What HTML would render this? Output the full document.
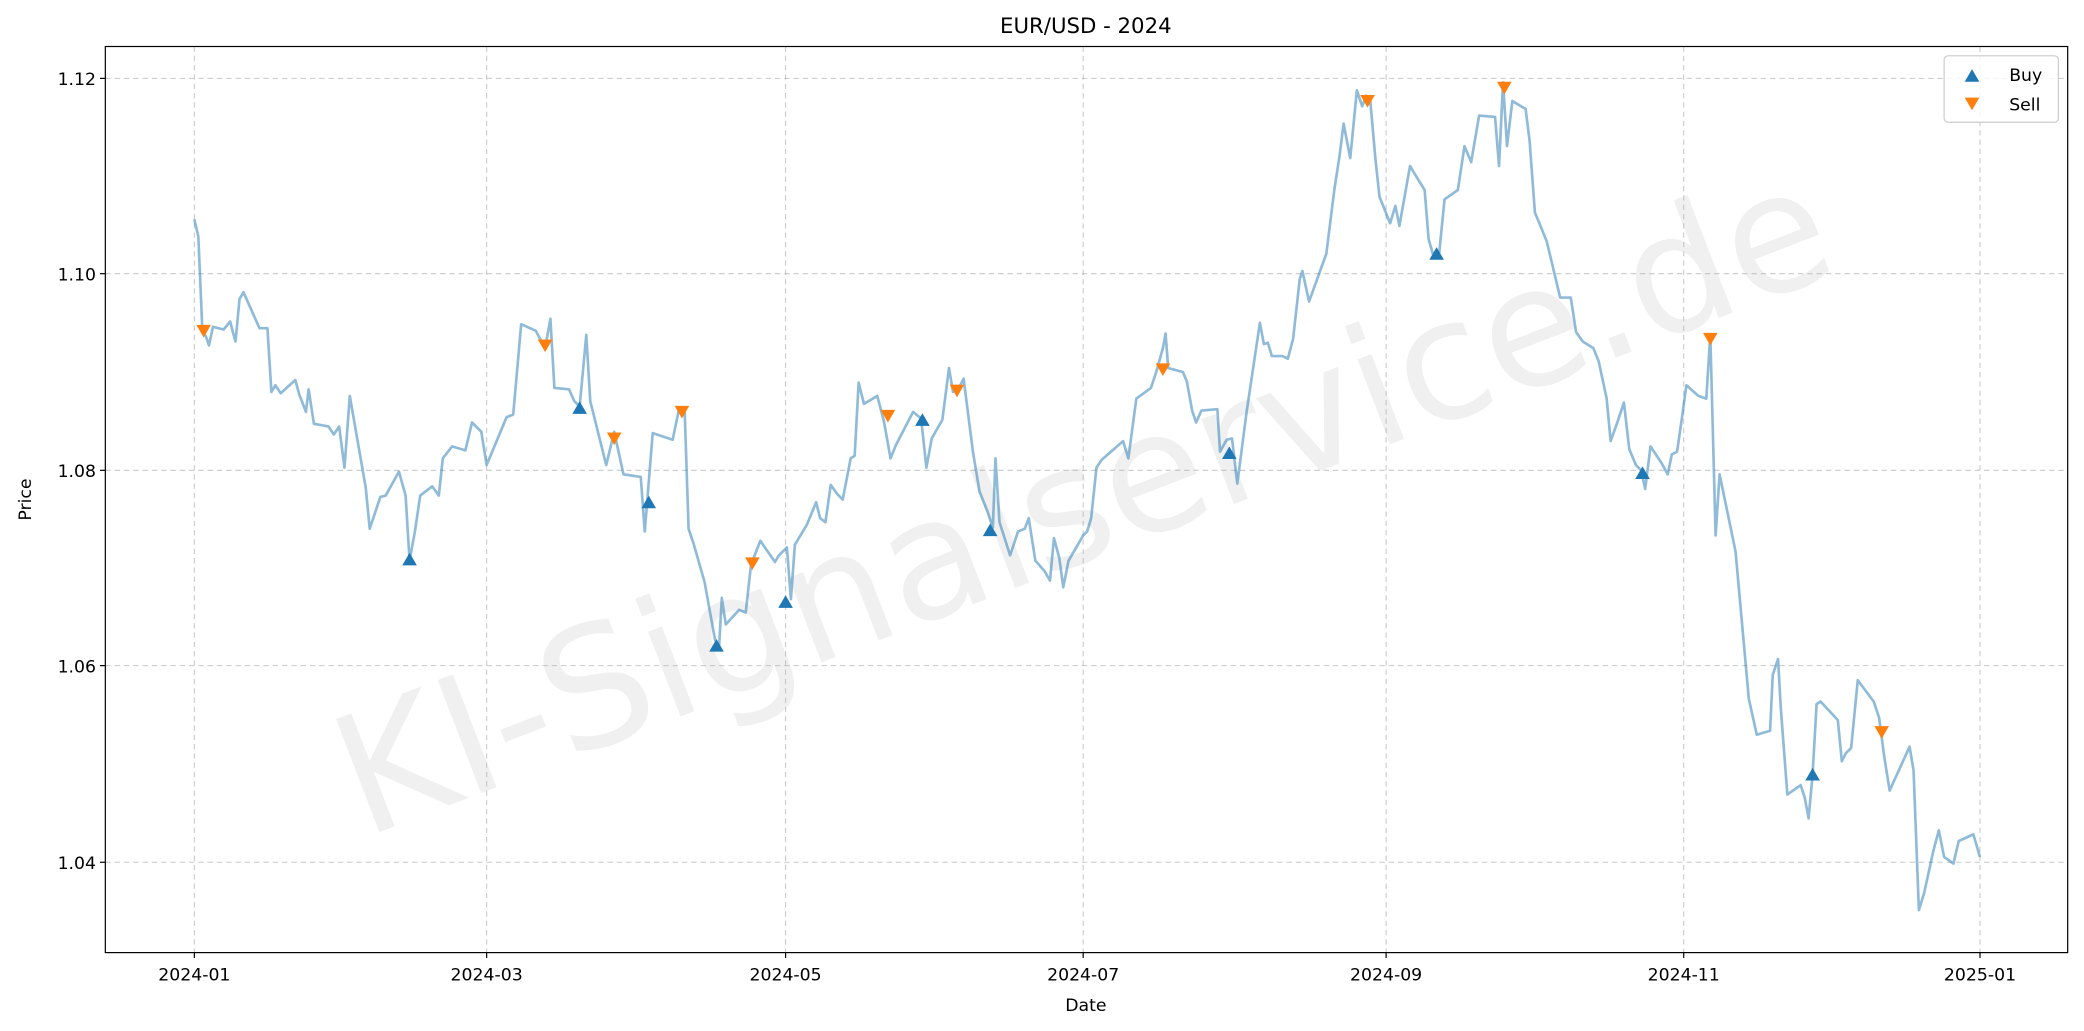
<!DOCTYPE html>
<html><head><meta charset="utf-8"><style>html,body{margin:0;padding:0;background:#fff}svg{display:block}</style></head>
<body>
<svg width="2084" height="1031" viewBox="0 0 1568 776" xmlns="http://www.w3.org/2000/svg" font-family="DejaVu Sans, Liberation Sans, sans-serif">
<rect width="1568" height="776" fill="#fff"/>
<text x="815" y="420" font-size="125" fill="#000" fill-opacity="0.06" text-anchor="middle" transform="rotate(-21 815 378)">KI-Signalservice.de</text>
<g stroke="#b0b0b0" stroke-opacity="0.7" stroke-width="0.8" stroke-dasharray="4,3">
<line x1="146" y1="35" x2="146" y2="717"/><line x1="366" y1="35" x2="366" y2="717"/><line x1="591" y1="35" x2="591" y2="717"/><line x1="815" y1="35" x2="815" y2="717"/><line x1="1043" y1="35" x2="1043" y2="717"/><line x1="1267" y1="35" x2="1267" y2="717"/><line x1="1490" y1="35" x2="1490" y2="717"/>
<line x1="79" y1="59" x2="1556" y2="59"/><line x1="79" y1="206" x2="1556" y2="206"/><line x1="79" y1="354" x2="1556" y2="354"/><line x1="79" y1="501" x2="1556" y2="501"/><line x1="79" y1="649" x2="1556" y2="649"/>
</g>
<polyline fill="none" stroke="#1f77b4" stroke-opacity="0.5" stroke-width="2" stroke-linejoin="round" points="146,165 149,178 152,248 155,254 157,260 160,246 168,248 173,242 175,250 177,257 180,225 183,220 195,247 201,247 204,295 207,290 211,296 222,286 225,297 230,310 232,293 236,319 247,321 251,327 255,321 259,352 263,298 275,367 278,398 286,374 290,373 300,355 305,373 308,422 312,400 316,373 325,366 330,373 333,345 340,336 350,339 355,318 362,325 366,350 381,314 386,312 392,244 403,249 410,262 414,240 417,292 428,293 432,302 436,306 441,252 444,302 456,350 462,325 469,357 482,359 485,400 491,326 506,331 511,307 515,308 518,398 522,410 530,438 538,482 541,486 543,450 546,470 556,459 561,461 565,425 572,407 583,423 586,418 592,412 595,451 598,410 607,395 614,378 617,390 621,393 625,365 630,372 634,376 640,345 643,343 646,288 650,304 660,298 665,317 670,345 674,335 687,310 693,315 697,352 701,330 709,316 714,277 717,295 721,293 725,285 732,340 737,370 743,385 747,397 749,345 752,393 760,418 766,400 771,398 774,390 779,422 786,430 790,437 793,405 797,420 800,442 804,422 815,403 818,400 821,390 825,352 829,346 845,332 849,345 855,300 866,292 870,280 875,262 877,251 879,277 890,280 893,287 897,309 900,318 904,309 916,308 918,340 923,331 927,330 931,364 938,310 948,243 951,259 954,258 957,268 965,268 969,270 973,255 978,210 980,204 985,227 998,191 1004,143 1008,117 1011,93 1016,119 1021,68 1025,80 1028,72 1031,75 1035,120 1038,148 1046,168 1050,155 1053,170 1061,125 1067,135 1072,143 1075,180 1079,194 1083,190 1087,150 1097,143 1102,110 1107,122 1113,87 1125,88 1128,125 1131,62 1134,110 1138,76 1148,82 1151,106 1155,160 1160,172 1164,182 1174,224 1182,224 1186,250 1191,257 1199,262 1203,272 1209,300 1212,332 1217,318 1222,303 1226,338 1231,350 1235,354 1238,368 1242,336 1250,348 1255,357 1258,342 1262,340 1266,312 1269,290 1278,298 1284,300 1287,252 1291,403 1294,357 1306,415 1316,526 1322,553 1332,550 1334,508 1338,496 1340,532 1345,598 1355,591 1358,600 1361,616 1364,583 1367,530 1370,528 1383,542 1386,573 1389,567 1393,563 1398,512 1410,528 1414,540 1418,570 1422,595 1437,562 1440,580 1444,685 1448,672 1455,640 1459,625 1463,645 1470,650 1474,633 1485,628 1490,645"/>
<g fill="#1f77b4">
<path d="M308,416l5.5,9.5h-11z"/><path d="M436,302l5.5,9.5h-11z"/><path d="M488,373l5.5,9.5h-11z"/><path d="M539,481l5.5,9.5h-11z"/><path d="M591,448l5.5,9.5h-11z"/><path d="M694,311l5.5,9.5h-11z"/><path d="M745,394l5.5,9.5h-11z"/><path d="M925,336l5.5,9.5h-11z"/><path d="M1081,186l5.5,9.5h-11z"/><path d="M1236,351l5.5,9.5h-11z"/><path d="M1364,578l5.5,9.5h-11z"/>
</g>
<g fill="#ff7f0e">
<path d="M153,254l5.5,-9.5h-11z"/><path d="M410,265l5.5,-9.5h-11z"/><path d="M462,335l5.5,-9.5h-11z"/><path d="M513,315l5.5,-9.5h-11z"/><path d="M566,429l5.5,-9.5h-11z"/><path d="M668,318l5.5,-9.5h-11z"/><path d="M720,299l5.5,-9.5h-11z"/><path d="M875,283l5.5,-9.5h-11z"/><path d="M1029,81l5.5,-9.5h-11z"/><path d="M1132,71l5.5,-9.5h-11z"/><path d="M1287,260l5.5,-9.5h-11z"/><path d="M1416,556l5.5,-9.5h-11z"/>
</g>
<rect x="79" y="35" width="1477" height="682" fill="none" stroke="#000" stroke-width="0.9"/>
<g stroke="#000" stroke-width="0.9">
<line x1="146" y1="717" x2="146" y2="721"/><line x1="366" y1="717" x2="366" y2="721"/><line x1="591" y1="717" x2="591" y2="721"/><line x1="815" y1="717" x2="815" y2="721"/><line x1="1043" y1="717" x2="1043" y2="721"/><line x1="1267" y1="717" x2="1267" y2="721"/><line x1="1490" y1="717" x2="1490" y2="721"/>
<line x1="75" y1="59" x2="79" y2="59"/><line x1="75" y1="206" x2="79" y2="206"/><line x1="75" y1="354" x2="79" y2="354"/><line x1="75" y1="501" x2="79" y2="501"/><line x1="75" y1="649" x2="79" y2="649"/>
</g>
<g font-size="13" fill="#000" text-anchor="middle">
<text x="146" y="738">2024-01</text><text x="366" y="738">2024-03</text><text x="591" y="738">2024-05</text><text x="815" y="738">2024-07</text><text x="1043" y="738">2024-09</text><text x="1267" y="738">2024-11</text><text x="1490" y="738">2025-01</text>
<text x="817" y="761">Date</text>
</g>
<g font-size="13" fill="#000" text-anchor="end">
<text x="72" y="64">1.12</text><text x="72" y="211">1.10</text><text x="72" y="359">1.08</text><text x="72" y="506">1.06</text><text x="72" y="654">1.04</text>
</g>
<text x="23" y="376" font-size="13" text-anchor="middle" transform="rotate(-90 23 376)">Price</text>
<text x="817" y="25" font-size="16" text-anchor="middle">EUR/USD - 2024</text>
<rect x="1463" y="42" width="86" height="50" rx="3" fill="#fff" fill-opacity="0.8" stroke="#ccc" stroke-width="0.9"/>
<path d="M1484,52l5.5,9.5h-11z" fill="#1f77b4"/>
<path d="M1484,83l5.5,-9.5h-11z" fill="#ff7f0e"/>
<text x="1512" y="61" font-size="13">Buy</text>
<text x="1512" y="83" font-size="13">Sell</text>
</svg>
</body></html>
